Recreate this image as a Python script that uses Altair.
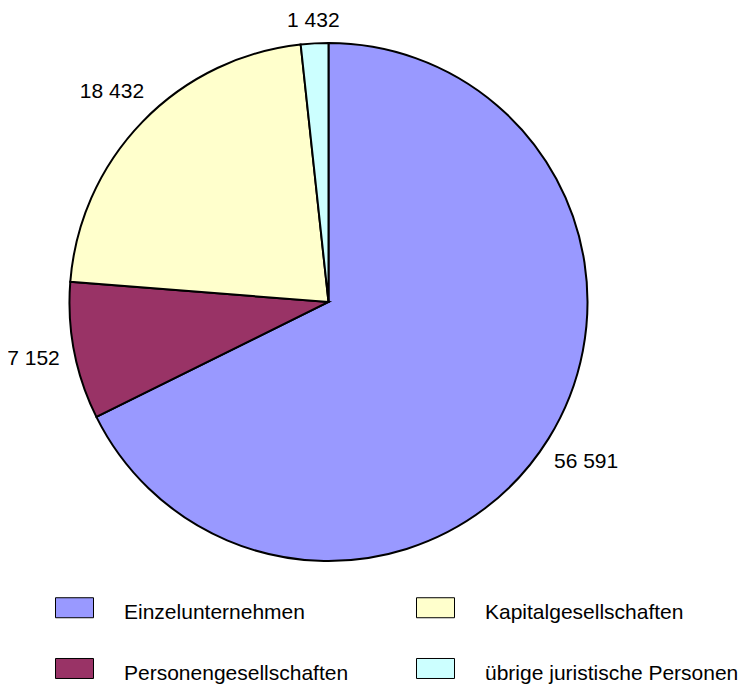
import altair as alt
import pandas as pd

categories = ["Einzelunternehmen", "Personengesellschaften", "Kapitalgesellschaften", "übrige juristische Personen"]
values = [56591, 7152, 18432, 1432]
labels = ["56 591", "7 152", "18 432", "1 432"]
colors = ["#9999FF", "#993366", "#FFFFCC", "#CCFFFF"]

df = pd.DataFrame({"cat": categories, "value": values, "label": labels, "order": list(range(len(categories)))})
color_scale = alt.Scale(domain=categories, range=colors)

FONT = "Liberation Sans"
cx, cy, R = 320.5, 294, 259

legend = alt.Legend(
    title=None,
    orient="none",
    legendX=47,
    legendY=585,
    columns=2,
    columnPadding=65,
    rowPadding=31,
    padding=0,
    symbolType="M-1,-0.79H1V0.263H-1Z",
    symbolSize=1444,
    symbolStrokeColor="black",
    symbolStrokeWidth=1,
    symbolOpacity=1,
    labelFont=FONT,
    labelFontSize=21,
    labelColor="black",
    labelOffset=30,
    labelLimit=500,
)

arcs = alt.Chart(df).mark_arc(outerRadius=R, stroke="black", strokeWidth=2, opacity=1).encode(
    theta=alt.Theta("value:Q", stack=True),
    order=alt.Order("order:Q", sort="ascending"),
    x=alt.value(cx),
    y=alt.value(cy),
    color=alt.Color("cat:N", scale=color_scale, legend=legend),
)

text = (
    alt.Chart(df)
    .transform_joinaggregate(total="sum(value)")
    .transform_window(cum="sum(value)", sort=[alt.SortField("order", order="ascending")], frame=[None, 0])
    .transform_calculate(
        mid="(datum.cum - datum.value / 2) / datum.total * 2 * PI",
        lr="272 + 25 * abs(sin(datum.mid)) + 7 * abs(cos(datum.mid)) + 14 * abs(sin(datum.mid) * cos(datum.mid))",
    )
    .mark_text(font=FONT, fontSize=21, color="black", baseline="middle")
    .encode(
        x=alt.value(cx),
        y=alt.value(cy),
        theta=alt.Theta("mid:Q", scale=None),
        radius=alt.Radius("lr:Q", scale=None),
        text="label:N",
    )
)

chart = (
    alt.layer(arcs, text)
    .resolve_scale(theta="independent")
    .properties(width=732, height=677, autosize=alt.AutoSizeParams(type="none"), padding=0)
    .configure_view(stroke=None)
)

chart.save("out.html", embed_options={"renderer": "svg", "actions": False})
